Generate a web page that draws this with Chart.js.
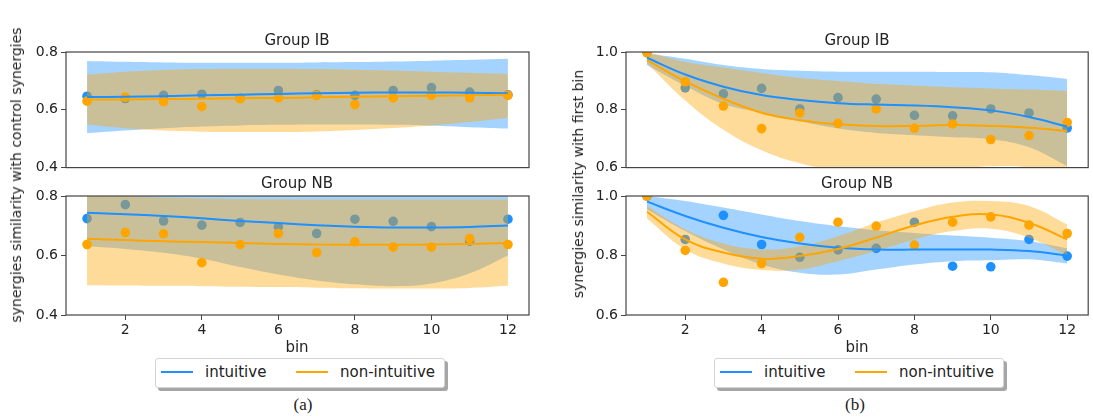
<!DOCTYPE html>
<html>
<head>
<meta charset="utf-8">
<script src="https://cdn.jsdelivr.net/npm/chart.js@4.4.0/dist/chart.umd.min.js"></script>
<style>
  body { margin: 0; background: #fff; width: 1093px; height: 417px; position: relative; overflow: hidden;
         font-family: 'DejaVu Sans', sans-serif; color: #222; }
  canvas { position: absolute; }
  .t { position: absolute; white-space: nowrap; transform: translate(-50%, -50%); font-size: 15px; }
  .ylab { position: absolute; white-space: nowrap; transform: translate(-50%, -50%) rotate(-90deg); font-size: 14px; }
  .legend { position: absolute; top: 358px; width: 288px; height: 28px; border: 1px solid #d4d4d4; border-radius: 3px;
            background: #fff; box-shadow: 3px 3px 0 rgba(0,0,0,0.35); font-size: 15px; }
  .legend .ln { position: absolute; top: 12px; width: 32px; height: 2px; }
  .legend .lt { position: absolute; top: 4px; }
  .cap { position: absolute; transform: translate(-50%, -50%); font-family: 'Liberation Serif', serif; font-size: 17px; }
</style>
</head>
<body>
<canvas id="aTop" width="545" height="139" style="left:0;top:40px"></canvas>
<canvas id="aBot" width="545" height="170" style="left:0;top:184px"></canvas>
<canvas id="bTop" width="533" height="139" style="left:560px;top:40px"></canvas>
<canvas id="bBot" width="533" height="170" style="left:560px;top:184px"></canvas>

<div class="t" style="left:297px;top:40px">Group IB</div>
<div class="t" style="left:297px;top:183px">Group NB</div>
<div class="t" style="left:857px;top:40px">Group IB</div>
<div class="t" style="left:857px;top:183px">Group NB</div>
<div class="t" style="left:297px;top:347px">bin</div>
<div class="t" style="left:857px;top:347px">bin</div>
<div class="ylab" style="left:16px;top:175px">synergies similarity with control synergies</div>
<div class="ylab" style="left:578px;top:184px">synergies similarity with first bin</div>

<div class="legend" style="left:155px">
  <div class="ln" style="left:5px;background:rgb(30,144,255)"></div><div class="lt" style="left:49px">intuitive</div>
  <div class="ln" style="left:140px;background:rgb(255,165,0)"></div><div class="lt" style="left:184px">non-intuitive</div>
</div>
<div class="legend" style="left:714px">
  <div class="ln" style="left:5px;background:rgb(30,144,255)"></div><div class="lt" style="left:49px">intuitive</div>
  <div class="ln" style="left:140px;background:rgb(255,165,0)"></div><div class="lt" style="left:184px">non-intuitive</div>
</div>
<div class="cap" style="left:303px;top:405px">(a)</div>
<div class="cap" style="left:855px;top:405px">(b)</div>

<script>
const bins = [1, 2, 3, 4, 5, 6, 7, 8, 9, 10, 11, 12];
const xTicks = [2, 4, 6, 8, 10, 12];
const yTicksA = [0.4, 0.6, 0.8];
const yTicksB = [0.6, 0.8, 1.0];

// (a) Group IB - similarity with control synergies
const aIbIntuitive = [0.647, 0.639, 0.650, 0.654, 0.640, 0.667, 0.652, 0.650, 0.667, 0.677, 0.661, 0.652];
const aIbNonIntuitive = [0.630, 0.644, 0.628, 0.611, 0.638, 0.641, 0.649, 0.618, 0.641, 0.650, 0.641, 0.650];
const aIbIntuitiveFit = [0.644, 0.645, 0.647, 0.650, 0.652, 0.655, 0.657, 0.659, 0.660, 0.660, 0.659, 0.657];
const aIbNonIntuitiveFit = [0.636, 0.636, 0.637, 0.638, 0.640, 0.641, 0.643, 0.645, 0.647, 0.649, 0.650, 0.652];
const aIbIntuitiveUp = [0.769, 0.766, 0.764, 0.763, 0.763, 0.763, 0.764, 0.765, 0.767, 0.770, 0.773, 0.777];
const aIbIntuitiveLo = [0.519, 0.528, 0.536, 0.542, 0.546, 0.548, 0.549, 0.549, 0.548, 0.545, 0.540, 0.535];
const aIbNonIntuitiveUp = [0.722, 0.732, 0.738, 0.741, 0.742, 0.742, 0.741, 0.739, 0.736, 0.732, 0.728, 0.724];
const aIbNonIntuitiveLo = [0.549, 0.536, 0.528, 0.524, 0.523, 0.523, 0.525, 0.530, 0.537, 0.546, 0.558, 0.572];

// (a) Group NB
const aNbIntuitive = [0.724, 0.771, 0.716, 0.702, 0.711, 0.696, 0.674, 0.722, 0.715, 0.697, 0.648, 0.722];
const aNbNonIntuitive = [0.637, 0.677, 0.673, 0.576, 0.637, 0.674, 0.610, 0.646, 0.628, 0.628, 0.657, 0.637];
const aNbIntuitiveFit = [0.744, 0.739, 0.733, 0.725, 0.716, 0.709, 0.702, 0.697, 0.694, 0.694, 0.696, 0.701];
const aNbNonIntuitiveFit = [0.656, 0.652, 0.648, 0.645, 0.642, 0.639, 0.637, 0.636, 0.636, 0.637, 0.639, 0.642];
const aNbIntuitiveUp = [0.86, 0.86, 0.85, 0.85, 0.85, 0.85, 0.85, 0.85, 0.85, 0.85, 0.86, 0.87];
const aNbIntuitiveLo = [0.631, 0.622, 0.609, 0.589, 0.561, 0.536, 0.516, 0.503, 0.497, 0.506, 0.540, 0.600];
const aNbNonIntuitiveUp = [0.810, 0.800, 0.795, 0.792, 0.790, 0.789, 0.788, 0.788, 0.788, 0.788, 0.788, 0.788];
const aNbNonIntuitiveLo = [0.500, 0.499, 0.498, 0.497, 0.495, 0.494, 0.492, 0.490, 0.489, 0.489, 0.491, 0.498];

// (b) Group IB - similarity with first bin
const bIbIntuitive = [1.0, 0.876, 0.855, 0.874, 0.803, 0.842, 0.837, 0.781, 0.779, 0.803, 0.789, 0.737];
const bIbNonIntuitive = [0.997, 0.897, 0.813, 0.735, 0.789, 0.753, 0.803, 0.736, 0.751, 0.697, 0.711, 0.756];
const bIbIntuitiveFit = [0.980, 0.922, 0.880, 0.851, 0.834, 0.823, 0.818, 0.815, 0.809, 0.798, 0.775, 0.742];
const bIbNonIntuitiveFit = [0.972, 0.898, 0.838, 0.790, 0.764, 0.750, 0.744, 0.744, 0.747, 0.744, 0.738, 0.727];
const bIbIntuitiveUp = [0.995, 0.977, 0.955, 0.941, 0.935, 0.932, 0.932, 0.932, 0.931, 0.930, 0.920, 0.907];
const bIbIntuitiveLo = [0.955, 0.883, 0.820, 0.790, 0.760, 0.735, 0.720, 0.712, 0.705, 0.698, 0.670, 0.605];
const bIbNonIntuitiveUp = [1.0, 0.966, 0.946, 0.927, 0.910, 0.900, 0.890, 0.884, 0.878, 0.874, 0.870, 0.865];
const bIbNonIntuitiveLo = [0.960, 0.832, 0.731, 0.660, 0.615, 0.590, 0.585, 0.587, 0.595, 0.605, 0.600, 0.570];

// (b) Group NB
const bNbIntuitive = [1.0, 0.854, 0.935, 0.837, 0.794, 0.819, 0.824, 0.912, 0.764, 0.762, 0.854, 0.798];
const bNbNonIntuitive = [1.0, 0.817, 0.710, 0.773, 0.861, 0.912, 0.899, 0.835, 0.912, 0.930, 0.902, 0.874];
const bNbIntuitiveFit = [0.981, 0.933, 0.893, 0.862, 0.840, 0.826, 0.820, 0.820, 0.820, 0.820, 0.815, 0.800];
const bNbNonIntuitiveFit = [0.947, 0.854, 0.810, 0.789, 0.798, 0.822, 0.860, 0.901, 0.930, 0.938, 0.910, 0.854];
const bNbIntuitiveUp = [1.0, 0.983, 0.961, 0.938, 0.916, 0.899, 0.885, 0.876, 0.867, 0.860, 0.848, 0.824];
const bNbIntuitiveLo = [0.955, 0.882, 0.820, 0.770, 0.742, 0.736, 0.753, 0.770, 0.781, 0.784, 0.787, 0.773];
const bNbNonIntuitiveUp = [0.966, 0.888, 0.840, 0.820, 0.831, 0.865, 0.910, 0.949, 0.978, 0.983, 0.966, 0.904];
const bNbNonIntuitiveLo = [0.924, 0.820, 0.773, 0.751, 0.753, 0.781, 0.815, 0.854, 0.882, 0.890, 0.860, 0.800];

const BLUE = 'rgb(30,144,255)';
const ORANGE = 'rgb(255,165,0)';
const BLUE_BAND = 'rgba(30,144,255,0.4)';
const ORANGE_BAND = 'rgba(255,165,0,0.4)';

Chart.defaults.font.family = "'DejaVu Sans', sans-serif";
Chart.defaults.font.size = 14;
Chart.defaults.color = '#222';

const pts = arr => arr.map((y, i) => ({ x: bins[i], y: y }));

// box around the plot area, like matplotlib spines
const frame = {
    id: 'frame',
    afterDraw(chart) {
        const a = chart.chartArea, ctx = chart.ctx;
        ctx.save();
        ctx.strokeStyle = '#444';
        ctx.lineWidth = 1.2;
        ctx.strokeRect(a.left, a.top, a.right - a.left, a.bottom - a.top);
        ctx.restore();
    }
};

function band(up, lo, color, order) {
    return [
        { data: pts(up), borderWidth: 0, pointRadius: 0, fill: '+1', backgroundColor: color, tension: 0.4, order: order, clip: 0 },
        { data: pts(lo), borderWidth: 0, pointRadius: 0, fill: false, tension: 0.4, order: order, clip: 0 }
    ];
}

function dots(vals, color, order) {
    return { data: pts(vals), showLine: false, pointRadius: 4.8, pointBackgroundColor: color, pointBorderWidth: 0, order: order, clip: 0 };
}

function fit(vals, color, order) {
    return { data: pts(vals), borderColor: color, borderWidth: 2, pointRadius: 0, tension: 0.4, fill: false, order: order };
}

function panel(id, s) {
    new Chart(document.getElementById(id), {
        type: 'line',
        data: {
            datasets: [
                ...band(s.intUp, s.intLo, BLUE_BAND, 6),
                dots(s.int, BLUE, 5),
                ...band(s.nonUp, s.nonLo, ORANGE_BAND, 4),
                dots(s.non, ORANGE, 3),
                fit(s.intFit, BLUE, 2),
                fit(s.nonFit, ORANGE, 1)
            ]
        },
        options: {
            responsive: false,
            animation: false,
            events: [],
            layout: { padding: { top: 12, right: s.padRight, left: 0, bottom: 0 } },
            plugins: { legend: { display: false }, tooltip: { enabled: false }, filler: { drawTime: 'beforeDatasetDraw' } },
            scales: {
                x: {
                    type: 'linear', min: 0.45, max: 12.55,
                    afterBuildTicks: sc => { sc.ticks = xTicks.map(v => ({ value: v })); },
                    afterFit: sc => { sc.height = s.showX ? 39 : 6; },
                    grid: { drawOnChartArea: false, drawTicks: s.showX, tickLength: 5, tickColor: '#444' },
                    border: { display: false },
                    ticks: { display: s.showX, padding: 2, maxRotation: 0, autoSkip: false }
                },
                y: {
                    min: s.yTicks[0], max: s.yTicks[s.yTicks.length - 1],
                    afterBuildTicks: sc => { sc.ticks = s.yTicks.map(v => ({ value: v })); },
                    afterFit: sc => { sc.width = 66; },
                    grid: { drawOnChartArea: false, tickLength: 5, tickColor: '#444' },
                    border: { display: false },
                    ticks: { padding: 3, callback: v => v.toFixed(1) }
                }
            }
        },
        plugins: [frame]
    });
}

panel('aTop', { int: aIbIntuitive, non: aIbNonIntuitive, intFit: aIbIntuitiveFit, nonFit: aIbNonIntuitiveFit,
    intUp: aIbIntuitiveUp, intLo: aIbIntuitiveLo, nonUp: aIbNonIntuitiveUp, nonLo: aIbNonIntuitiveLo,
    yTicks: yTicksA, showX: false, padRight: 16 });
panel('aBot', { int: aNbIntuitive, non: aNbNonIntuitive, intFit: aNbIntuitiveFit, nonFit: aNbNonIntuitiveFit,
    intUp: aNbIntuitiveUp, intLo: aNbIntuitiveLo, nonUp: aNbNonIntuitiveUp, nonLo: aNbNonIntuitiveLo,
    yTicks: yTicksA, showX: true, padRight: 16 });
panel('bTop', { int: bIbIntuitive, non: bIbNonIntuitive, intFit: bIbIntuitiveFit, nonFit: bIbNonIntuitiveFit,
    intUp: bIbIntuitiveUp, intLo: bIbIntuitiveLo, nonUp: bIbNonIntuitiveUp, nonLo: bIbNonIntuitiveLo,
    yTicks: yTicksB, showX: false, padRight: 4 });
panel('bBot', { int: bNbIntuitive, non: bNbNonIntuitive, intFit: bNbIntuitiveFit, nonFit: bNbNonIntuitiveFit,
    intUp: bNbIntuitiveUp, intLo: bNbIntuitiveLo, nonUp: bNbNonIntuitiveUp, nonLo: bNbNonIntuitiveLo,
    yTicks: yTicksB, showX: true, padRight: 4 });
</script>
</body>
</html>
